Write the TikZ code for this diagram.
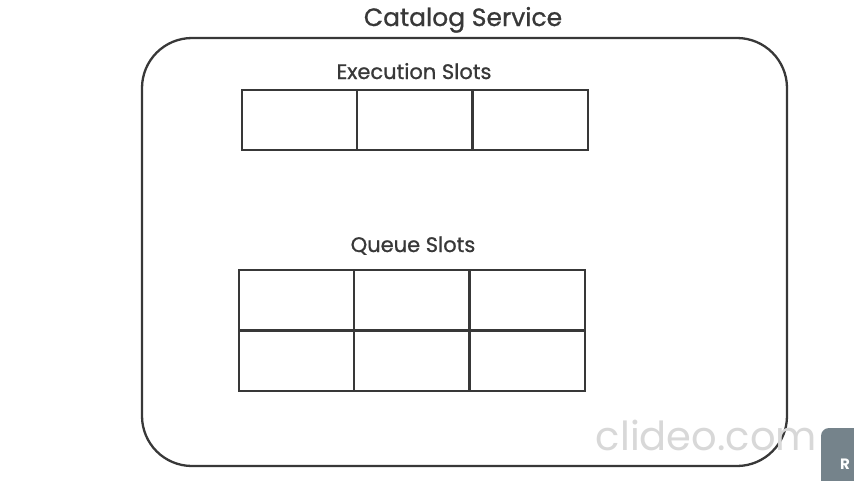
\documentclass[tikz,border=0pt]{standalone}
\usepackage{fontspec}
\setmainfont{Poppins}
\newfontfamily\medfont{Poppins}[FakeBold=0.9]
\definecolor{ink}{HTML}{383838}
\definecolor{wm}{HTML}{D8D8D8}
\definecolor{rbox}{HTML}{75838B}
\begin{document}
\begin{tikzpicture}[x=1pt,y=-1pt,
  cell/.style={draw=ink,line width=2pt,minimum width=115pt,minimum height=60pt,inner sep=0pt,outer sep=0pt},
  lbl/.style={text=ink,font=\medfont\fontsize{21}{25}\selectfont,inner sep=0pt},
  ttl/.style={text=ink,font=\medfont\fontsize{25}{30}\selectfont,inner sep=0pt}]
\useasboundingbox (0,0) rectangle (854,480);
\fill[white] (0,0) rectangle (854,480);
% outer rounded box
\node[draw=ink,line width=2.3pt,rounded corners=50pt,minimum width=645pt,minimum height=428pt,inner sep=0pt] (svc) at (464.5,252) {};
\node[ttl,anchor=base] (title) at (463,26) {Catalog Service};
% execution slots
\node[lbl,anchor=base] (exl) at (414,79) {Execution Slots};
\node[cell] (e1) at (299.5,120) {};
\node[cell] (e2) at (414.5,120) {};
\node[cell] (e3) at (530,120) {};
% queue slots
\node[lbl,anchor=base] (ql) at (413,252) {Queue Slots};
\node[cell] (q1) at (296.5,300) {};
\node[cell] (q2) at (411.5,300) {};
\node[cell] (q3) at (527,300) {};
\node[cell] (q4) at (296.5,360.5) {};
\node[cell] (q5) at (411.5,360.5) {};
\node[cell] (q6) at (527,360.5) {};
% watermark
\node[text=wm,font=\fontsize{40}{44}\selectfont,inner sep=0pt,anchor=base east] (wmark) at (817,450) {clideo.com};
\fill[rbox,rounded corners=8pt] (821,428) rectangle (870,490);
\node[text=white,font=\bfseries\fontsize{15}{18}\selectfont,inner sep=0pt] (rlab) at (845,464) {R};
\end{tikzpicture}
\end{document}
